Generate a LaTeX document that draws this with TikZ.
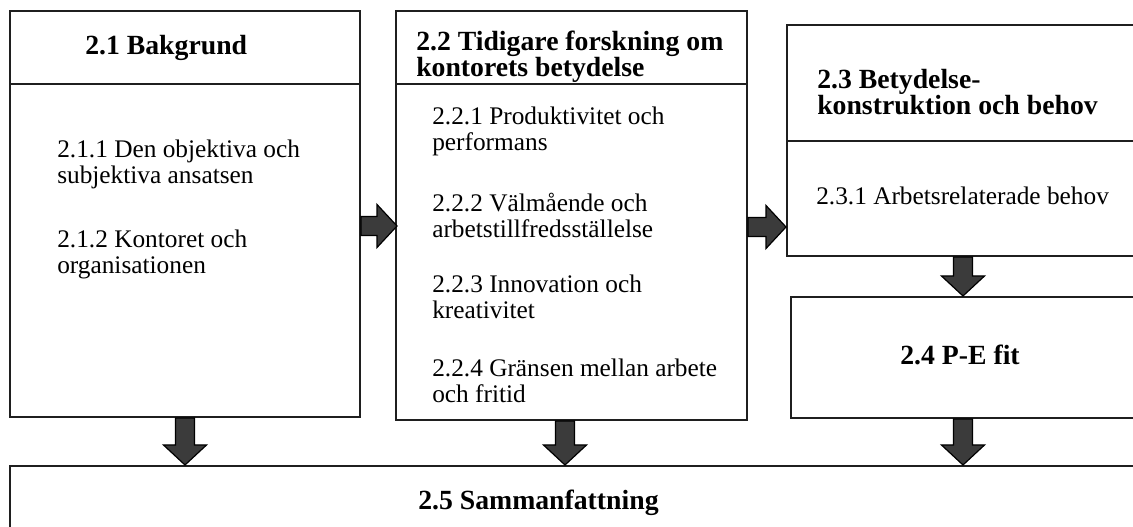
\documentclass[tikz,border=0pt]{standalone}
\usepackage{fontspec}
\setmainfont{Liberation Serif}
\usetikzlibrary{fit,calc}

% block arrow sizes (in picture units)
\def\sh{9.5}   % half shaft width
\def\hh{21.5}  % half head width
\def\hl{20}    % head length

\newcommand{\rightblock}[2]{%
  \draw[blockarrow] ($(#1)+(0,-\sh)$) -- ($(#2)+(-\hl,-\sh)$) -- ($(#2)+(-\hl,-\hh)$)
    -- (#2) -- ($(#2)+(-\hl,\hh)$) -- ($(#2)+(-\hl,\sh)$) -- ($(#1)+(0,\sh)$) -- cycle;}
\newcommand{\downblock}[2]{%
  \draw[blockarrow] ($(#1)+(-\sh,0)$) -- ($(#2)+(-\sh,-\hl)$) -- ($(#2)+(-\hh,-\hl)$)
    -- (#2) -- ($(#2)+(\hh,-\hl)$) -- ($(#2)+(\sh,-\hl)$) -- ($(#1)+(\sh,0)$) -- cycle;}

\tikzset{
  box/.style={draw=black!88, line width=1.5pt, inner sep=0pt, rectangle},
  rule/.style={draw=black!88, line width=1.5pt},
  blockarrow/.style={draw=black, line width=0.9pt, fill=black!77, line join=miter},
  head/.style={font=\bfseries\fontsize{20.8}{18.75}\selectfont, inner sep=0pt, align=left},
  item/.style={font=\fontsize{19}{19.5}\selectfont, inner sep=0pt, align=left},
}

\begin{document}
\begin{tikzpicture}[x=0.75pt,y=-0.75pt]
\useasboundingbox (0,0) rectangle (1133,527);
\clip (0,0) rectangle (1133,527);

% boxes
\node[box, fit={(10,11) (360,417)}] (b21) {};
\node[box, fit={(396,11) (747,420)}] (b22) {};
\node[box, fit={(787,25) (1150,256)}] (b23) {};
\node[box, fit={(791,297) (1150,418)}] (b24) {};
\node[box, fit={(10,466) (1150,560)}] (b25) {};

% header separators
\draw[rule] (b21.west |- 0,84) -- (b21.east |- 0,84);
\draw[rule] (b22.west |- 0,84) -- (b22.east |- 0,84);
\draw[rule] (b23.west |- 0,141) -- (b23.east |- 0,141);

% headings (base anchor = baseline of the last line)
\node[head, anchor=base west] (h21) at (85,55) {2.1 Bakgrund};
\node[head, anchor=base west] (h22) at (416,77) {2.2 Tidigare forskning om\\kontorets betydelse};
\node[head, anchor=base west, font=\bfseries\fontsize{20.8}{19.5}\selectfont] (h23) at (817,115) {2.3 Betydelse-\\konstruktion och behov};
\node[head, anchor=base] (h24) at (960,365) {2.4 P-E fit};
\node[head, anchor=base west] (h25) at (418,509) {2.5 Sammanfattning};

% sub-items
\node[item, anchor=base west] (i211) at (57,184) {2.1.1 Den objektiva och\\subjektiva ansatsen};
\node[item, anchor=base west] (i212) at (57,274) {2.1.2 Kontoret och\\organisationen};
\node[item, anchor=base west] (i221) at (432,151) {2.2.1 Produktivitet och\\performans};
\node[item, anchor=base west] (i222) at (432,238) {2.2.2 Välmående och\\arbetstillfredsställelse};
\node[item, anchor=base west] (i223) at (432,319) {2.2.3 Innovation och\\kreativitet};
\node[item, anchor=base west] (i224) at (432,403) {2.2.4 Gränsen mellan arbete\\och fritid};
\node[item, anchor=base west] (i231) at (816,205) {2.3.1 Arbetsrelaterade behov};

% arrow end points
\coordinate (r1s) at (b21.east |- 0,226);
\coordinate (r1t) at ($(b22.west |- 0,226)+(2,0)$);
\coordinate (r2s) at (b22.east |- 0,227);
\coordinate (r2t) at (b23.west |- 0,227);
\coordinate (d1s) at (b21.south -| 185,0);
\coordinate (d1t) at (b25.north -| 185,0);
\coordinate (d2s) at (b22.south -| 565,0);
\coordinate (d2t) at (b25.north -| 565,0);
\coordinate (d3s) at (b24.south -| 963,0);
\coordinate (d3t) at (b25.north -| 963,0);
\coordinate (d4s) at (b23.south -| 963,0);
\coordinate (d4t) at (b24.north -| 963,0);

% block arrows
\rightblock{r1s}{r1t}
\rightblock{r2s}{r2t}
\downblock{d1s}{d1t}
\downblock{d2s}{d2t}
\downblock{d3s}{d3t}
\downblock{d4s}{d4t}
\end{tikzpicture}
\end{document}
